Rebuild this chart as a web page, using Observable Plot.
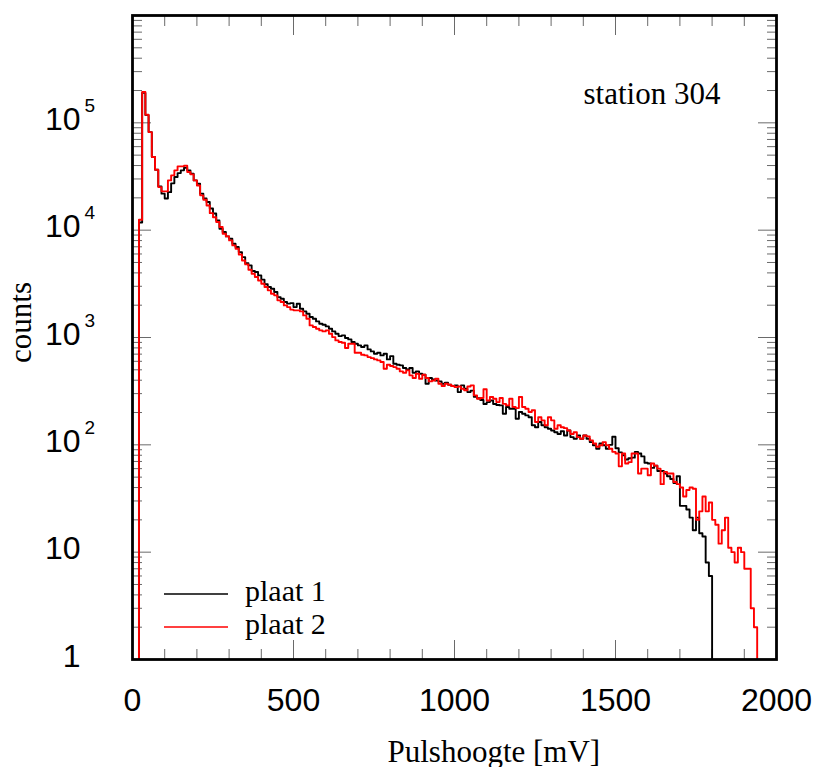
<!DOCTYPE html>
<html><head><meta charset="utf-8">
<script src="https://cdn.jsdelivr.net/npm/d3@7"></script>
<script src="https://cdn.jsdelivr.net/npm/@observablehq/plot@0.6"></script>
<style>
html,body{margin:0;padding:0;background:#fff;}
#chart{width:814px;height:767px;overflow:hidden;}
</style></head><body><div id="chart"></div>
<script>
// Histogram bins: 10 mV wide, first bin starts at 20 mV
const binStart = 20;
const binWidth = 10;

// plaat 1 (black), counts per bin from 20 mV to 1800 mV
const plaat1Counts = [
  11800, 190000, 118000, 82000, 48000, 36600, 25600, 21900,
  19700, 22600, 27300, 31300, 34000, 36100, 38200, 36100, 33600, 29100,
  27100, 21900, 19700, 18300, 15900, 14300, 12300, 10300, 9600, 8750,
  8330, 7480, 6960, 6250, 5610, 4930, 4700, 4160, 4070, 3790,
  3460, 3130, 2950, 2850, 2650, 2380, 2300, 2140, 2070, 2090,
  1920, 2064, 1854, 1751, 1666, 1550, 1496, 1413, 1343, 1315,
  1269, 1207, 1140, 1084, 1031, 1046, 988, 960, 907, 875,
  844, 815, 844, 775, 742, 706, 721, 681, 706, 625,
  671, 570, 558, 550, 519, 505, 519, 470, 483, 460,
  450, 371, 419, 407, 398, 390, 371, 379, 363, 353,
  358, 310, 358, 333, 310, 320, 280, 272, 262, 240,
  250, 259, 240, 235, 233, 195, 225, 217, 217, 175,
  202, 195, 188, 181, 152, 146, 163, 152, 146, 141,
  136, 131, 126, 134, 122, 136, 118, 114, 122, 114,
  122, 114, 106, 99, 92, 103, 99, 92, 100, 119,
  93, 85, 80, 73, 75, 76, 86, 83, 78, 68,
  67, 61, 64, 57, 57, 54, 51, 48, 44, 51,
  27, 27, 25, 21, 16, 21, 15, 14, 8, 6
];

// plaat 2 (red), counts per bin from 20 mV to 1940 mV
const plaat2Counts = [
  12500, 194000, 119000, 82000, 48000, 36600, 25200, 23000,
  23000, 29100, 32400, 36100, 39300, 39300, 39900, 34800, 33100, 29100,
  26100, 21100, 19200, 17000, 14400, 13200, 11900, 10700, 9270, 8750,
  8030, 7210, 6720, 5940, 5220, 4800, 4280, 3930, 3660, 3400,
  3170, 2950, 2750, 2560, 2470, 2220, 2140, 1990, 1920, 1820,
  1790, 1789, 1751, 1607, 1496, 1297, 1251, 1207, 1164, 1140,
  1164, 1084, 1009, 940, 907, 894, 798, 875, 875, 721,
  721, 691, 681, 657, 643, 625, 612, 591, 512, 558,
  542, 530, 512, 483, 470, 494, 444, 419, 460, 413,
  450, 419, 390, 398, 413, 371, 353, 371, 363, 353,
  345, 350, 333, 322, 350, 358, 289, 269, 273, 330,
  259, 279, 269, 250, 273, 241, 233, 269, 225, 220,
  279, 225, 217, 202, 210, 163, 181, 169, 152, 181,
  169, 141, 152, 146, 143, 136, 126, 131, 118, 114,
  122, 120, 110, 103, 96, 99, 106, 99, 92, 86,
  83, 63, 83, 67, 69, 83, 83, 54, 60, 60,
  52, 67, 64, 60, 43, 56, 54, 54, 45, 43,
  40, 33, 38, 40, 39, 20, 24, 33, 24, 29,
  20, 18, 12, 16, 21, 11, 10, 8, 11, 10,
  7, 7, 3, 2
];

const seriesNames = ["plaat 1", "plaat 2"];
const seriesColors = ["#000000", "#ff0000"];
const xTickLabels = [0, 500, 1000, 1500, 2000];
const yDecades = [1, 10, 100, 1000, 10000, 100000];
const yDecadeBase = ["1", "10", "10", "10", "10", "10"];
const yDecadeExp = ["", "", "2", "3", "4", "5"];
const titleText = "station 304";
const xLabel = "Pulshoogte [mV]";
const yLabel = "counts";

const FLOOR = 0.1; // below the axis minimum, clipped by the frame
function stepPoints(counts, name) {
  const pts = [{x: binStart, y: FLOOR, s: name}];
  counts.forEach((c, i) => pts.push({x: binStart + i * binWidth, y: c, s: name}));
  pts.push({x: binStart + counts.length * binWidth, y: FLOOR, s: name});
  return pts;
}
const series1 = stepPoints(plaat1Counts, seriesNames[0]);
const series2 = stepPoints(plaat2Counts, seriesNames[1]);

const xMinor = d3.range(0, 2001, 100).filter(v => v % 500 !== 0);
const yMajor = [1, 10, 100, 1000, 10000, 100000, 1000000];
const yMinor = [];
for (let k = 0; k < 6; k++) for (let m = 2; m <= 9; m++) yMinor.push(m * Math.pow(10, k));

const serif = "'Liberation Serif', 'Times New Roman', serif";
const sans = "'Liberation Sans', Arial, Helvetica, sans-serif";
const tickStroke = "#6a6a6a";

const labelData = yDecades.map((v, i) => ({v, base: yDecadeBase[i], exp: yDecadeExp[i]}));

function legendMark(index, scales, values, dim) {
  const g = d3.create("svg:g");
  const left = dim.marginLeft;
  const bottom = dim.height - dim.marginBottom;
  const rows = [bottom - 65, bottom - 32];
  seriesNames.forEach((name, i) => {
    g.append("line")
      .attr("x1", left + 32).attr("x2", left + 96)
      .attr("y1", rows[i]).attr("y2", rows[i])
      .attr("stroke", seriesColors[i]).attr("stroke-width", 1.6);
    g.append("text")
      .attr("x", left + 113).attr("y", rows[i] + 7)
      .attr("text-anchor", "start")
      .attr("font-family", serif).attr("font-size", 30)
      .attr("fill", "#000")
      .text(name);
  });
  return g.node();
}

const chart = Plot.plot({
  width: 814,
  height: 767,
  marginLeft: 132,
  marginRight: 38,
  marginTop: 15,
  marginBottom: 108,
  x: {domain: [0, 2000]},
  y: {type: "log", domain: [1, 1e6]},
  style: {background: "white", fontFamily: sans},
  marks: [
    // inward ticks on all four sides
    Plot.axisX(xTickLabels, {anchor: "bottom", tickSize: -19, text: null, label: null, stroke: tickStroke}),
    Plot.axisX(xMinor, {anchor: "bottom", tickSize: -10, text: null, label: null, stroke: tickStroke}),
    Plot.axisX(xTickLabels, {anchor: "top", tickSize: -19, text: null, label: null, stroke: tickStroke}),
    Plot.axisX(xMinor, {anchor: "top", tickSize: -10, text: null, label: null, stroke: tickStroke}),
    Plot.axisY(yMajor, {anchor: "left", tickSize: -19, text: null, label: null, stroke: tickStroke}),
    Plot.axisY(yMinor, {anchor: "left", tickSize: -10, text: null, label: null, stroke: tickStroke}),
    Plot.axisY(yMajor, {anchor: "right", tickSize: -19, text: null, label: null, stroke: tickStroke}),
    Plot.axisY(yMinor, {anchor: "right", tickSize: -10, text: null, label: null, stroke: tickStroke}),
    // histograms
    Plot.line(series1, {x: "x", y: "y", curve: "step-after", stroke: seriesColors[0], strokeWidth: 1.9, clip: "frame"}),
    Plot.line(series2, {x: "x", y: "y", curve: "step-after", stroke: seriesColors[1], strokeWidth: 1.9, clip: "frame"}),
    Plot.frame({stroke: "#000", strokeWidth: 2.8}),
    // x tick labels
    Plot.text(xTickLabels, {x: d => d, text: d => String(d), frameAnchor: "bottom", lineAnchor: "bottom",
      dy: 51, fontSize: 32, fontFamily: sans, fill: "#000"}),
    // y tick labels (base and exponent)
    Plot.text(labelData, {y: "v", text: "base", frameAnchor: "left", textAnchor: "end", lineAnchor: "bottom",
      dx: -52, dy: 7, fontSize: 32, fontFamily: sans, fill: "#000"}),
    Plot.text(labelData.filter(d => d.exp), {y: "v", text: "exp", frameAnchor: "left", textAnchor: "start", lineAnchor: "bottom",
      dx: -48, dy: -11, fontSize: 19, fontFamily: sans, fill: "#000"}),
    // axis titles
    Plot.text([xLabel], {text: d => d, frameAnchor: "bottom-left", textAnchor: "start", lineAnchor: "bottom",
      dx: 255, dy: 102, fontSize: 31, fontFamily: serif, fill: "#000"}),
    Plot.text([yLabel], {text: d => d, frameAnchor: "left", textAnchor: "middle", lineAnchor: "bottom",
      rotate: -90, dx: -102, dy: -15, fontSize: 31, fontFamily: serif, fill: "#000"}),
    // title
    Plot.text([titleText], {text: d => d, frameAnchor: "top-left", textAnchor: "start", lineAnchor: "bottom",
      dx: 451, dy: 88, fontSize: 31, fontFamily: serif, fill: "#000"}),
    // legend
    legendMark
  ]
});
document.getElementById("chart").appendChild(chart);
</script>
</body></html>
